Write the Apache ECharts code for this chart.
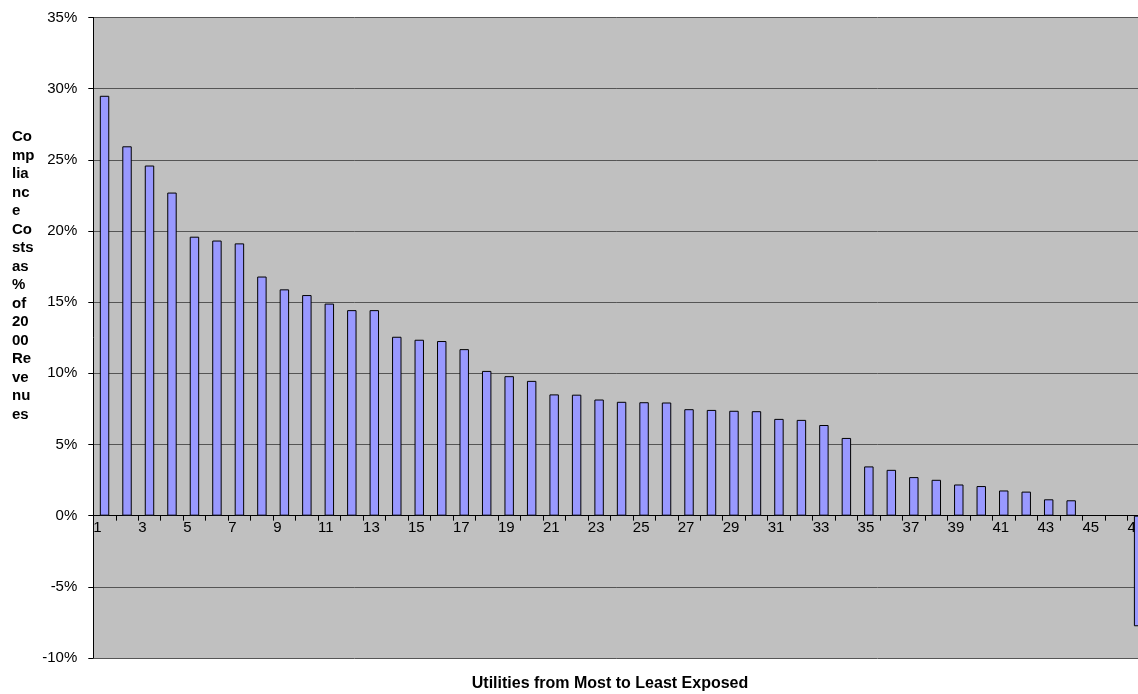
<!DOCTYPE html>
<html>
<head>
<meta charset="utf-8">
<title>Compliance Costs by Utility</title>
<script src="https://cdn.jsdelivr.net/npm/echarts@6/dist/echarts.min.js"></script>
<style>
  html, body { margin: 0; padding: 0; background: #ffffff; }
  #chart { width: 1138px; height: 694px; }
</style>
</head>
<body>
<div id="chart"></div>
<script>
// Utilities ranked from most to least exposed (1..47)
const utilities = Array.from({ length: 47 }, (_, i) => String(i + 1));

// Compliance costs as % of 2000 revenues
const complianceCostPct = [
  29.5, 25.95, 24.6, 22.7, 19.6, 19.33, 19.13, 16.8, 15.9, 15.5,
  14.9, 14.44, 14.44, 12.57, 12.36, 12.27, 11.7, 10.17, 9.8, 9.47,
  8.52, 8.5, 8.16, 8.0, 7.97, 7.95, 7.48, 7.43, 7.37, 7.34,
  6.8, 6.73, 6.37, 5.46, 3.46, 3.22, 2.71, 2.52, 2.19, 2.08,
  1.77, 1.69, 1.15, 1.08, null, null, -7.77
];

// Value axis range and step (percent)
const yMin = -10;
const yMax = 35;
const yStep = 5;

const yAxisTitle = 'Co\nmp\nlia\nnc\ne\nCo\nsts\nas\n%\nof\n20\n00\nRe\nve\nnu\nes';
const xAxisTitle = 'Utilities from Most to Least Exposed';

const FONT = '"Liberation Sans", Arial, sans-serif';

// Plot area: the last category runs past the right edge of the canvas
const gridLeft = 93.3;
const gridTop = 17.5;
const gridHeight = 640.5;
const bandWidth = 22.48;
const gridWidth = bandWidth * utilities.length;

// Category axis sits on the zero line: shift it up from the plot bottom
const zeroY = gridTop + gridHeight * (yMax / (yMax - yMin));
const xAxisOffset = zeroY - (gridTop + gridHeight);

const chart = echarts.init(document.getElementById('chart'), null, { renderer: 'canvas' });

chart.setOption({
  animation: false,
  backgroundColor: '#ffffff',
  grid: {
    left: gridLeft,
    top: gridTop,
    width: gridWidth,
    height: gridHeight,
    outerBoundsMode: 'none',
    containLabel: false,
    show: true,
    backgroundColor: '#c0c0c0',
    borderWidth: 0
  },
  xAxis: {
    type: 'category',
    data: utilities,
    boundaryGap: true,
    position: 'bottom',
    offset: xAxisOffset,
    axisLine: { show: true, onZero: false, lineStyle: { color: '#000000', width: 1 } },
    axisTick: { show: true, interval: 0, length: 5, inside: false, lineStyle: { color: '#000000' } },
    axisLabel: {
      interval: 1,
      margin: 5,
      color: '#000000',
      fontFamily: FONT,
      fontSize: 15,
      align: 'center',
      formatter: (v) => '{a|' + v + '}',
      rich: {
        a: { width: bandWidth, align: 'left', fontFamily: FONT, fontSize: 15, color: '#000000' }
      }
    },
    splitLine: { show: false }
  },
  yAxis: {
    type: 'value',
    min: yMin,
    max: yMax,
    interval: yStep,
    axisLine: { show: true, lineStyle: { color: '#000000', width: 1 } },
    axisTick: { show: true, length: 5, lineStyle: { color: '#000000' } },
    axisLabel: {
      margin: 16,
      color: '#000000',
      fontFamily: FONT,
      fontSize: 15,
      formatter: (v) => v + '%'
    },
    splitLine: { show: true, lineStyle: { color: '#555555', width: 1 } }
  },
  series: [{
    type: 'bar',
    data: complianceCostPct,
    barWidth: '42%',
    itemStyle: {
      color: '#9999ff',
      borderColor: '#000000',
      borderWidth: 1
    }
  }],
  graphic: [
    {
      type: 'text',
      left: 12,
      top: 128,
      style: {
        text: yAxisTitle,
        fontFamily: FONT,
        fontWeight: 'bold',
        fontSize: 15,
        lineHeight: 18.5,
        fill: '#000000',
        align: 'left'
      }
    },
    {
      type: 'text',
      x: 610,
      y: 684,
      style: {
        text: xAxisTitle,
        fontFamily: FONT,
        fontWeight: 'bold',
        fontSize: 16,
        fill: '#000000',
        align: 'center',
        verticalAlign: 'middle'
      }
    }
  ]
});
</script>
</body>
</html>
